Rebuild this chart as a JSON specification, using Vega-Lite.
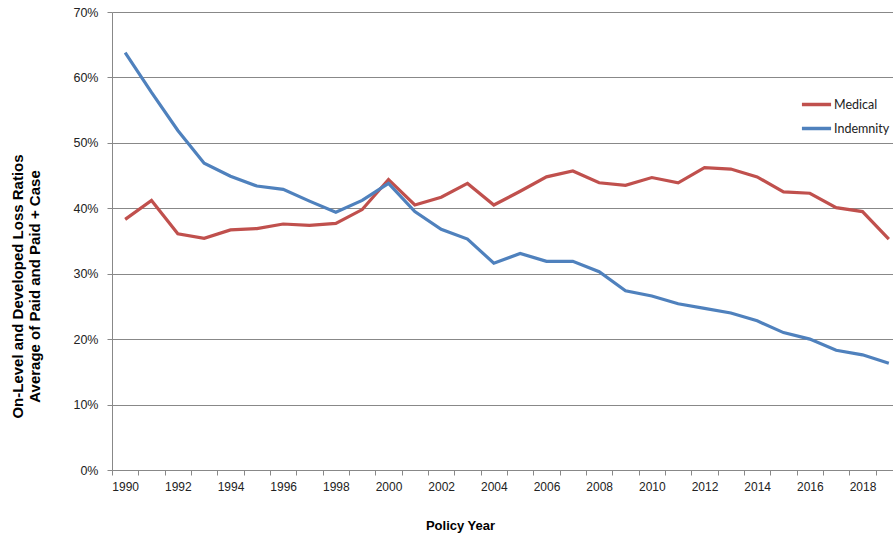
{
  "$schema": "https://vega.github.io/schema/vega-lite/v6.json",
  "width": 781,
  "height": 458,
  "autosize": {"type": "none"},
  "padding": {"left": 112, "top": 12, "right": 0, "bottom": 66},
  "background": "white",
  "config": {
    "view": {"stroke": null},
    "font": "Liberation Sans"
  },
  "data": {
    "values": [
      {"year": 1990, "series": "Medical", "ratio": 0.383},
      {"year": 1991, "series": "Medical", "ratio": 0.412},
      {"year": 1992, "series": "Medical", "ratio": 0.361},
      {"year": 1993, "series": "Medical", "ratio": 0.354},
      {"year": 1994, "series": "Medical", "ratio": 0.367},
      {"year": 1995, "series": "Medical", "ratio": 0.369},
      {"year": 1996, "series": "Medical", "ratio": 0.376},
      {"year": 1997, "series": "Medical", "ratio": 0.374},
      {"year": 1998, "series": "Medical", "ratio": 0.377},
      {"year": 1999, "series": "Medical", "ratio": 0.398},
      {"year": 2000, "series": "Medical", "ratio": 0.444},
      {"year": 2001, "series": "Medical", "ratio": 0.405},
      {"year": 2002, "series": "Medical", "ratio": 0.417},
      {"year": 2003, "series": "Medical", "ratio": 0.438},
      {"year": 2004, "series": "Medical", "ratio": 0.405},
      {"year": 2005, "series": "Medical", "ratio": 0.426},
      {"year": 2006, "series": "Medical", "ratio": 0.448},
      {"year": 2007, "series": "Medical", "ratio": 0.457},
      {"year": 2008, "series": "Medical", "ratio": 0.439},
      {"year": 2009, "series": "Medical", "ratio": 0.435},
      {"year": 2010, "series": "Medical", "ratio": 0.447},
      {"year": 2011, "series": "Medical", "ratio": 0.439},
      {"year": 2012, "series": "Medical", "ratio": 0.462},
      {"year": 2013, "series": "Medical", "ratio": 0.460},
      {"year": 2014, "series": "Medical", "ratio": 0.448},
      {"year": 2015, "series": "Medical", "ratio": 0.425},
      {"year": 2016, "series": "Medical", "ratio": 0.423},
      {"year": 2017, "series": "Medical", "ratio": 0.401},
      {"year": 2018, "series": "Medical", "ratio": 0.395},
      {"year": 2019, "series": "Medical", "ratio": 0.353},
      {"year": 1990, "series": "Indemnity", "ratio": 0.638},
      {"year": 1991, "series": "Indemnity", "ratio": 0.577},
      {"year": 1992, "series": "Indemnity", "ratio": 0.519},
      {"year": 1993, "series": "Indemnity", "ratio": 0.469},
      {"year": 1994, "series": "Indemnity", "ratio": 0.449},
      {"year": 1995, "series": "Indemnity", "ratio": 0.434},
      {"year": 1996, "series": "Indemnity", "ratio": 0.429},
      {"year": 1997, "series": "Indemnity", "ratio": 0.411},
      {"year": 1998, "series": "Indemnity", "ratio": 0.394},
      {"year": 1999, "series": "Indemnity", "ratio": 0.412},
      {"year": 2000, "series": "Indemnity", "ratio": 0.438},
      {"year": 2001, "series": "Indemnity", "ratio": 0.395},
      {"year": 2002, "series": "Indemnity", "ratio": 0.368},
      {"year": 2003, "series": "Indemnity", "ratio": 0.353},
      {"year": 2004, "series": "Indemnity", "ratio": 0.316},
      {"year": 2005, "series": "Indemnity", "ratio": 0.331},
      {"year": 2006, "series": "Indemnity", "ratio": 0.319},
      {"year": 2007, "series": "Indemnity", "ratio": 0.319},
      {"year": 2008, "series": "Indemnity", "ratio": 0.303},
      {"year": 2009, "series": "Indemnity", "ratio": 0.274},
      {"year": 2010, "series": "Indemnity", "ratio": 0.266},
      {"year": 2011, "series": "Indemnity", "ratio": 0.254},
      {"year": 2012, "series": "Indemnity", "ratio": 0.247},
      {"year": 2013, "series": "Indemnity", "ratio": 0.240},
      {"year": 2014, "series": "Indemnity", "ratio": 0.228},
      {"year": 2015, "series": "Indemnity", "ratio": 0.210},
      {"year": 2016, "series": "Indemnity", "ratio": 0.200},
      {"year": 2017, "series": "Indemnity", "ratio": 0.183},
      {"year": 2018, "series": "Indemnity", "ratio": 0.176},
      {"year": 2019, "series": "Indemnity", "ratio": 0.163}
    ]
  },
  "mark": {"type": "line", "strokeWidth": 3.2, "strokeJoin": "miter"},
  "encoding": {
    "x": {
      "field": "year",
      "type": "ordinal",
      "bandPosition": 0.5,
      "scale": {"type": "band", "range": [0, 790], "paddingInner": 0, "paddingOuter": 0},
      "axis": {
        "title": "Policy Year",
        "titleFont": "Liberation Sans",
        "titleFontSize": 13,
        "titleFontWeight": "bold",
        "titleColor": "#000000",
        "titleX": 348,
        "titlePadding": 27,
        "tickBand": "extent",
        "labelExpr": "datum.value % 2 == 0 ? datum.label : ''",
        "labelAngle": 0,
        "labelFontSize": 12,
        "labelColor": "#222222",
        "labelPadding": 6,
        "labelOverlap": false,
        "tickSize": 5,
        "tickColor": "#888888",
        "domainColor": "#888888",
        "grid": false
      }
    },
    "y": {
      "field": "ratio",
      "type": "quantitative",
      "scale": {"domain": [0, 0.7], "nice": false},
      "axis": {
        "title": ["On-Level and Developed Loss Ratios", "Average of Paid and Paid + Case"],
        "titleFont": "Liberation Sans",
        "titleFontSize": 15,
        "titleFontWeight": "bold",
        "titleColor": "#000000",
        "titleLineHeight": 17,
        "titleY": 274,
        "titlePadding": 30,
        "format": ".0%",
        "values": [0, 0.1, 0.2, 0.3, 0.4, 0.5, 0.6, 0.7],
        "labelFontSize": 12.5,
        "labelColor": "#222222",
        "labelPadding": 9,
        "tickSize": 5,
        "tickColor": "#888888",
        "domainColor": "#888888",
        "grid": true,
        "gridColor": "#888888",
        "gridWidth": 1
      }
    },
    "color": {
      "field": "series",
      "type": "nominal",
      "scale": {"domain": ["Medical", "Indemnity"], "range": ["#C0504D", "#4F81BD"]},
      "legend": {
        "title": null,
        "orient": "none",
        "legendX": 688,
        "legendY": 76,
        "symbolType": "stroke",
        "symbolStrokeWidth": 3.5,
        "symbolSize": 850,
        "labelFont": "Lato",
        "labelFontSize": 12.5,
        "labelColor": "#222222",
        "rowPadding": -12,
        "labelOffset": 1
      }
    }
  }
}
